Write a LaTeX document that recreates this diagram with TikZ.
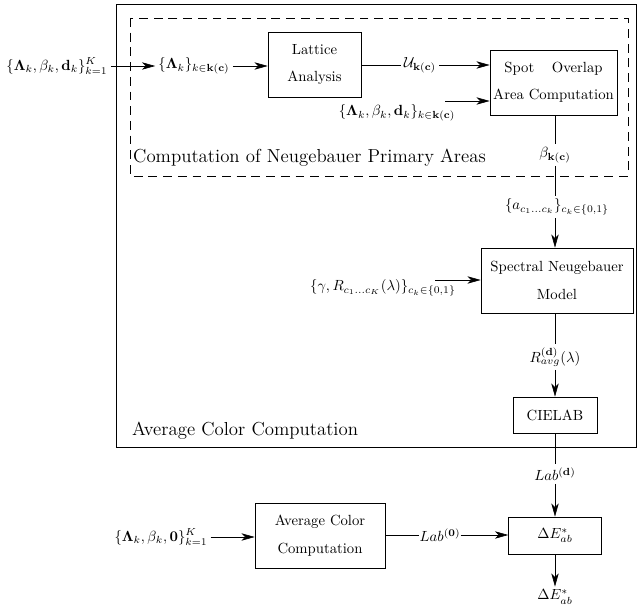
\documentclass[tikz,border=0pt]{standalone}
\usepackage{amsmath}
\usetikzlibrary{arrows.meta}

\begin{document}
\begin{tikzpicture}
[x=0.68pt,y=-0.68pt,
>={Stealth[length=9pt,width=5pt,inset=2.5pt]},
blockbox/.style={shape=rectangle,draw,align=center,font=\linespread{1.55}\selectfont},
tallbox/.style={blockbox,minimum height=44.2pt},
flatbox/.style={blockbox,minimum height=24.5pt},
signal/.style={inner sep=2pt},
regionlabel/.style={anchor=west,font=\fontsize{12.8}{15}\selectfont}]

\useasboundingbox (0,0) rectangle (637,607);

\draw (116,4) rectangle (636,447);
\draw[dashed,dash pattern=on 6pt off 4pt] (130,18) rectangle (628,176);
\node[regionlabel] (npa) at (128,158) {Computation of Neugebauer Primary Areas};
\node[regionlabel] (acc) at (127,431) {Average Color Computation};

\node[signal] (in1) at (57,66) {$\{\mathbf{\Lambda}_k,\beta_k,\mathbf{d}_k\}_{k=1}^{K}$};
\node[signal] (lam) at (194,66) {$\{\mathbf{\Lambda}_k\}_{k\in\mathbf{k}(\mathbf{c})}$};
\node[tallbox,minimum width=63.2pt] (lattice) at (314.5,64.5) {Lattice\\Analysis};
\node[signal] (ukc) at (420,65) {$\mathcal{U}_{\mathbf{k}(\mathbf{c})}$};
\node[tallbox,minimum width=86.4pt,inner xsep=2pt] (spot) at (553.5,82.5) {Spot\hspace{1.2em}Overlap\\Area Computation};
\node[signal] (in2) at (397,113) {$\{\mathbf{\Lambda}_k,\beta_k,\mathbf{d}_k\}_{k\in\mathbf{k}(\mathbf{c})}$};
\coordinate (in2end) at (445,101);
\node[signal] (beta) at (555,155) {$\beta_{\mathbf{k}(\mathbf{c})}$};
\node[signal] (areas) at (557,207) {$\{a_{c_1\dots c_k}\}_{c_k\in\{0,1\}}$};
\node[tallbox,minimum width=103.4pt] (neug) at (557,280.5) {Spectral Neugebauer\\Model};
\node[signal] (prim) at (383,288) {$\{\gamma,R_{c_1\dots c_K}(\lambda)\}_{c_k\in\{0,1\}}$};
\coordinate (primend) at (435,280);
\node[signal] (ravg) at (555,357) {$R^{(\mathbf{d})}_{avg}(\lambda)$};
\node[flatbox,minimum width=57.1pt] (cielab) at (555,415) {CIELAB};
\node[signal] (labd) at (555,474) {$Lab^{(\mathbf{d})}$};
\node[flatbox,minimum width=63.2pt,minimum height=25.2pt] (delta) at (555,535.5) {$\Delta E^*_{ab}$};
\node[signal] (deltaout) at (555,597) {$\Delta E^*_{ab}$};
\node[signal] (in3) at (161,537) {$\{\mathbf{\Lambda}_k,\beta_k,\mathbf{0}\}_{k=1}^{K}$};
\node[tallbox,minimum width=88.4pt] (avg) at (320,535.5) {Average Color\\Computation};
\node[signal,inner xsep=0pt] (lab0) at (440,535) {$Lab^{(\mathbf{0})}$};

\draw[->] (in1.east) -- (lam.west);
\draw[->] (lam.east) -- (lattice.west |- lam.east);
\draw (lattice.east |- ukc.west) -- (ukc.west);
\draw[->] (ukc.east) -- (ukc.east -| spot.west);
\draw[->] (in2end) -- (in2end -| spot.west);
\draw (spot.south -| beta.north) -- (beta.north);
\draw (beta.south) -- (beta.south |- areas.north);
\draw[->] (areas.south -| beta.south) -- (neug.north -| beta.south);
\draw[->] (primend) -- (primend -| neug.west);
\draw (neug.south -| ravg.north) -- (ravg.north);
\draw[->] (ravg.south) -- (cielab.north);
\draw (cielab.south) -- (labd.north);
\draw[->] (labd.south) -- (delta.north);
\draw[->] (delta.south) -- (deltaout.north);
\draw[->] (in3.east) -- (avg.west |- in3.east);
\draw (avg.east |- lab0.west) -- (lab0.west);
\draw[->] (lab0.east) -- (delta.west |- lab0.east);
\end{tikzpicture}
\end{document}
